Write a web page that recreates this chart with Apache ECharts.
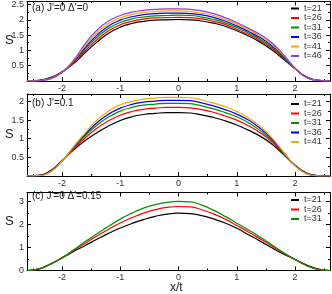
<!DOCTYPE html>
<html><head><meta charset="utf-8">
<script src="https://cdn.jsdelivr.net/npm/echarts@6/dist/echarts.min.js"></script>
<style>html,body{margin:0;padding:0;background:#fff}#c{width:332px;height:294px}</style>
</head><body><div id="c"></div>
<script>
const xs = [-2.6,-2.4,-2.2,-2.0,-1.8,-1.6,-1.4,-1.2,-1.0,-0.8,-0.6,-0.4,-0.2,0,
            0.2,0.4,0.6,0.8,1.0,1.2,1.4,1.6,1.8,2.0,2.2,2.4,2.6];

// panel (a) J'=0 Δ'=0
const aT21 = [0,.02,.11,.30,.57,.93,1.27,1.56,1.76,1.88,1.95,1.99,2.0,2.01,
              2.0,1.96,1.89,1.79,1.64,1.47,1.27,1.02,.72,.40,.13,.02,0];
const aT26 = [0,.017,.102,.294,.592,.99,1.35,1.64,1.84,1.95,2.02,2.06,2.07,2.08,
              2.07,2.03,1.95,1.85,1.69,1.52,1.32,1.07,.75,.404,.126,.02,0];
const aT31 = [0,.015,.094,.288,.614,1.05,1.43,1.72,1.91,2.03,2.09,2.13,2.14,2.15,
              2.14,2.09,2.01,1.90,1.75,1.57,1.37,1.11,.78,.408,.122,.02,0];
const aT36 = [0,.012,.086,.282,.636,1.10,1.50,1.80,1.99,2.10,2.17,2.20,2.22,2.22,
              2.20,2.16,2.08,1.96,1.80,1.62,1.42,1.16,.81,.412,.118,.02,0];
const aT41 = [0,.01,.078,.276,.658,1.16,1.58,1.88,2.06,2.18,2.24,2.27,2.29,2.29,
              2.27,2.22,2.14,2.01,1.86,1.67,1.47,1.20,.84,.416,.114,.02,0];
const aT46 = [0,.007,.07,.27,.68,1.22,1.66,1.96,2.14,2.25,2.31,2.34,2.36,2.36,
              2.34,2.29,2.20,2.07,1.91,1.72,1.52,1.25,.87,.42,.11,.02,0];

// panel (b) J'=0.1
const bT21 = [0,.02,.14,.41,.70,.95,1.16,1.34,1.49,1.59,1.65,1.68,1.70,1.70,
              1.69,1.64,1.57,1.48,1.37,1.23,1.07,.86,.58,.29,.08,.01,0];
const bT26 = [0,.017,.13,.41,.73,1.02,1.28,1.48,1.63,1.73,1.79,1.82,1.84,1.84,
              1.83,1.78,1.71,1.61,1.50,1.35,1.16,.92,.60,.29,.073,.008,0];
const bT31 = [0,.015,.12,.405,.755,1.08,1.36,1.58,1.74,1.84,1.90,1.93,1.95,1.95,
              1.94,1.88,1.80,1.70,1.59,1.43,1.22,.96,.62,.28,.068,.007,0];
const bT36 = [0,.014,.116,.40,.775,1.12,1.43,1.66,1.82,1.92,1.98,2.01,2.03,2.03,
              2.02,1.96,1.88,1.78,1.66,1.50,1.28,1.0,.64,.28,.064,.006,0];
const bT41 = [0,.012,.11,.395,.79,1.16,1.50,1.74,1.91,2.0,2.06,2.09,2.11,2.11,
              2.10,2.04,1.96,1.86,1.73,1.56,1.33,1.03,.65,.28,.06,.005,0];

// panel (c) J'=0 Δ'=0.15
const cT21 = [0,.07,.28,.55,.83,1.09,1.36,1.62,1.85,2.05,2.22,2.36,2.46,2.5,
              2.48,2.39,2.25,2.07,1.84,1.56,1.28,.99,.72,.48,.24,.06,0];
const cT26 = [0,.065,.275,.55,.87,1.19,1.5,1.8,2.07,2.3,2.5,2.65,2.75,2.79,
              2.77,2.65,2.47,2.24,1.96,1.68,1.38,1.07,.76,.48,.22,.05,0];
const cT31 = [0,.06,.27,.55,.90,1.26,1.6,1.93,2.24,2.5,2.72,2.87,2.97,3.01,
              2.99,2.85,2.63,2.36,2.06,1.77,1.46,1.12,.78,.48,.21,.045,0];

const xMajor = [-2,-1,0,1,2];
const xMinor = [-2.5,-1.5,-0.5,0.5,1.5,2.5];
const panels = [
  {title:"(a) J'=0 Δ'=0", yMax:2.6, yMajor:[0,0.5,1,1.5,2,2.5], yLabels:[0.5,1,1.5,2,2.5], yMinor:[0.25,0.75,1.25,1.75,2.25],
   names:['t=21','t=26','t=31','t=36','t=41','t=46'], data:[aT21,aT26,aT31,aT36,aT41,aT46]},
  {title:"(b) J'=0.1", yMax:2.2, yMajor:[0,0.5,1,1.5,2], yLabels:[0.5,1,1.5,2], yMinor:[0.25,0.75,1.25,1.75],
   names:['t=21','t=26','t=31','t=36','t=41'], data:[bT21,bT26,bT31,bT36,bT41]},
  {title:"(c) J'=0 Δ'=0.15", yMax:3.4, yMajor:[0,1,2,3], yLabels:[0,1,2,3], yMinor:[0.5,1.5,2.5],
   names:['t=21','t=26','t=31'], data:[cT21,cT26,cT31]}
];
const colors = ['#000000','#ff0000','#009000','#0000ff','#ffa500','#9040d0'];

const FONT = 'Liberation Sans, Arial, sans-serif';
const rects = [{top:1,height:80},{top:94,height:82},{top:192.5,height:78}];
const legendTops = [4, 99.5, 195.5];
const titleY = [9, 104, 197.5];
const sY = [42, 136, 223];

const grid=[], xAxis=[], yAxis=[], series=[], legend=[], graphic=[];
panels.forEach((p,i)=>{
  const r = rects[i];
  grid.push({left:27, right:2, top:r.top, height:r.height});
  grid.push({left:27, right:2, top:r.top, height:r.height});
  const gMain = 2*i, gMinor = 2*i+1;
  const axLine = {show:true, onZero:false, lineStyle:{color:'#000', width:1}};
  const noLine = {show:false, onZero:false};
  const tick = (vals,len)=>({show:true, inside:true, length:len, customValues:vals, lineStyle:{color:'#000'}});
  const base = {type:'value', min:-2.6, max:2.6, splitLine:{show:false}};
  xAxis.push(Object.assign({}, base, {gridIndex:gMain, position:'bottom', axisLine:axLine, axisTick:tick(xMajor,4),
    axisLabel:{show:true, customValues:xMajor, fontSize:9, color:'#333', margin:3, fontFamily:FONT}}));
  xAxis.push(Object.assign({}, base, {gridIndex:gMain, position:'top', axisLine:axLine, axisTick:tick(xMajor,4), axisLabel:{show:false}}));
  xAxis.push(Object.assign({}, base, {gridIndex:gMinor, position:'bottom', axisLine:noLine, axisTick:tick(xMinor,2), axisLabel:{show:false}}));
  xAxis.push(Object.assign({}, base, {gridIndex:gMinor, position:'top', axisLine:noLine, axisTick:tick(xMinor,2), axisLabel:{show:false}}));
  const yb = {type:'value', min:0, max:p.yMax, splitLine:{show:false}};
  yAxis.push(Object.assign({}, yb, {gridIndex:gMain, position:'left', axisLine:axLine, axisTick:tick(p.yMajor,4),
    axisLabel:{show:true, customValues:p.yLabels, fontSize:9, color:'#333', margin:3, fontFamily:FONT}}));
  yAxis.push(Object.assign({}, yb, {gridIndex:gMain, position:'right', axisLine:axLine, axisTick:tick(p.yMajor,4), axisLabel:{show:false}}));
  yAxis.push(Object.assign({}, yb, {gridIndex:gMinor, position:'left', axisLine:noLine, axisTick:tick(p.yMinor,2), axisLabel:{show:false}}));
  yAxis.push(Object.assign({}, yb, {gridIndex:gMinor, position:'right', axisLine:noLine, axisTick:tick(p.yMinor,2), axisLabel:{show:false}}));
  const xi = 4*i, yi = 4*i;
  p.data.forEach((arr,k)=>{
    series.push({type:'line', name:p.names[k], xAxisIndex:xi, yAxisIndex:yi,
      data: xs.map((x,j)=>[x, arr[j]]), showSymbol:false, smooth:0.5,
      lineStyle:{color:colors[k], width:1.2}, itemStyle:{color:colors[k]}, z: 2+k});
  });
  legend.push({orient:'vertical', left:291, top:legendTops[i], data:p.names,
    icon:'rect', itemWidth:8, itemHeight:2, itemGap:0.5, padding:0,
    textStyle:{fontSize:9, lineHeight:9, color:'#333', fontFamily:FONT}});
  graphic.push({type:'text', left:32, top:titleY[i]-6, style:{text:p.title, fontSize:10, fill:'#222', fontFamily:FONT}});
  graphic.push({type:'text', left:5, top:sY[i]-8, style:{text:'S', fontSize:13, fill:'#222', fontFamily:FONT}});
});
graphic.push({type:'text', left:170, top:282, style:{text:'x/t', fontSize:12, fill:'#222', fontFamily:FONT}});

const chart = echarts.init(document.getElementById('c'), null, {renderer:'canvas'});
chart.setOption({animation:false, backgroundColor:'#fff', grid, xAxis, yAxis, series, legend, graphic});
</script></body></html>
